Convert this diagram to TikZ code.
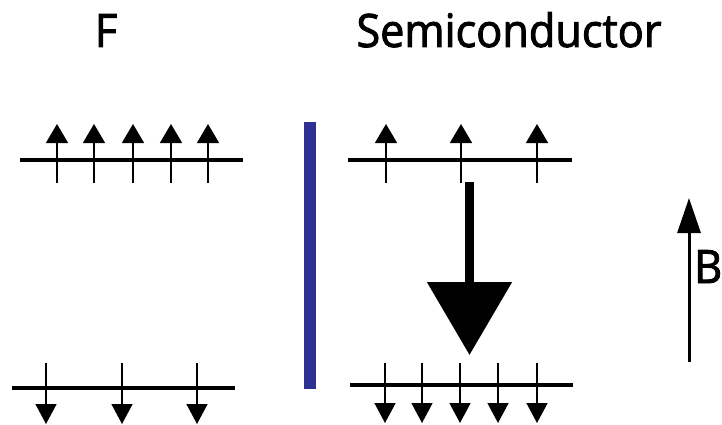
\documentclass[tikz,border=0pt]{standalone}
\usepackage{fontspec}
\setmainfont{Open Sans}[FakeStretch=0.94,FakeBold=2]
\usetikzlibrary{arrows.meta}
\definecolor{barblue}{RGB}{46,49,146}
\tikzset{
  level/.style={line width=4pt},
  spinup/.style={line width=1.5pt,-{Triangle[length=19pt,width=22pt]}},
  spindown/.style={line width=1.5pt,-{Triangle[length=20pt,width=21pt]}},
  bigarrow/.style={line width=9pt,-{Triangle[length=73pt,width=83pt]}},
  field/.style={line width=3pt,-{Triangle[length=35pt,width=23pt]}},
  lbl/.style={font=\fontsize{46}{50}\selectfont, inner sep=0pt, anchor=base}
}
\begin{document}
\begin{tikzpicture}[x=1pt,y=-1pt]
\useasboundingbox (0,0) rectangle (722,425);
% titles
\node[lbl] (tF) at (106,47) {F};
\node[lbl] (tS) at (509,47) {Semiconductor};
% ferromagnet levels
\draw[level] (20,160) -- (243,160);
\foreach \x in {57,94,133,171,208}
  \draw[spinup] (\x,183) -- (\x,124);
\draw[level] (12,388) -- (235,388);
\foreach \x in {46,122,197}
  \draw[spindown] (\x,363) -- (\x,424);
% interface bar
\fill[barblue] (304,122) rectangle (316,389);
% semiconductor levels
\draw[level] (348,160) -- (572,160);
\foreach \x in {386,461,537}
  \draw[spinup] (\x,183) -- (\x,124);
\draw[level] (350,385) -- (573,385);
\foreach \x in {385,422,460,498,537}
  \draw[spindown] (\x,363) -- (\x,423);
% big transition arrow
\draw[bigarrow] (469.5,182) -- (469.5,355);
% field
\draw[field] (689,362) -- (689,198);
\node[lbl, anchor=base west] (tB) at (694,283) {B};
\end{tikzpicture}
\end{document}
